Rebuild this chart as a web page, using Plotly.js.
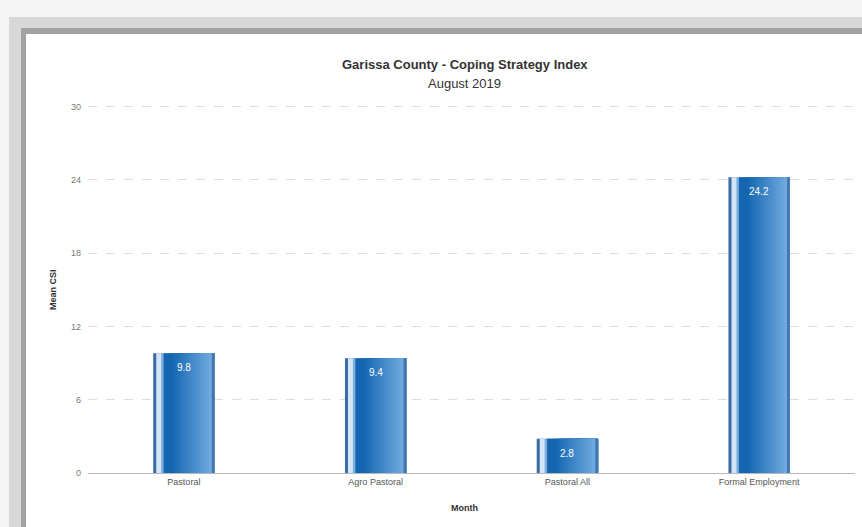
<!DOCTYPE html>
<html>
<head>
<meta charset="utf-8">
<script src="https://cdn.plot.ly/plotly-3.0.1.min.js"></script>
<style>
  html, body { margin: 0; padding: 0; width: 862px; height: 527px; overflow: hidden; background: #f5f5f5; }
  /* card edge with soft shadow bands along the top and left */
  #band1 { position: absolute; left: 9px; top: 17px; right: 0; bottom: 0; background: #d8d8d8; }
  #band2 { position: absolute; left: 21px; top: 28px; right: 0; bottom: 0; background: #a2a2a2; }
  #card  { position: absolute; left: 26px; top: 34px; right: 0; bottom: 0; background: #ffffff; }
  #chart { position: absolute; left: 0; top: 0; width: 862px; height: 527px; }
</style>
</head>
<body>
<div id="band1"></div>
<div id="band2"></div>
<div id="card"></div>
<div id="chart"></div>
<script>
// Mean Coping Strategy Index by livelihood zone, August 2019
const categories = ["Pastoral", "Agro Pastoral", "Pastoral All", "Formal Employment"];
const meanCSI = [9.8, 9.4, 2.8, 24.2];
const yTicks = [0, 6, 12, 18, 24, 30];

// Bars are built from overlapping vertical stripes to give the cylinder shading.
// Each stripe runs from its start to the right edge; later stripes cover earlier ones.
const BAR_W = 0.32;
const stripes = [
  [0.00, "#3b6ea4"],
  [0.05, "#d3e5f6"],
  [0.13, "#7aaedd"],
  [0.17, "#1565b0"]
];
const gradStart = [22, 104, 178], gradEnd = [110, 168, 222];
const gradSteps = 14;
for (let i = 0; i < gradSteps; i++) {
  const a = 0.30 + (0.95 - 0.30) * i / gradSteps;
  const t = i / (gradSteps - 1);
  const c = gradStart.map((v, k) => Math.round(v + (gradEnd[k] - v) * t));
  stripes.push([a, `rgb(${c[0]},${c[1]},${c[2]})`]);
}
stripes.push([0.955, "#4277ad"]);

const traces = stripes.map(([a, col]) => ({
  type: "bar",
  x: categories,
  y: meanCSI,
  width: BAR_W * (1 - a),
  offset: -BAR_W / 2 + BAR_W * a,
  marker: { color: col, line: { width: 0 } },
  hoverinfo: "skip",
  showlegend: false
}));

const valueLabels = categories.map((c, i) => ({
  x: c, y: meanCSI[i], xref: "x", yref: "y",
  text: meanCSI[i].toFixed(1),
  showarrow: false, yanchor: "top", yshift: -7,
  font: { size: 10, color: "#ffffff" }
}));

const layout = {
  width: 862,
  height: 527,
  margin: { l: 88, r: 7, t: 104, b: 54 },
  paper_bgcolor: "rgba(0,0,0,0)",
  plot_bgcolor: "rgba(0,0,0,0)",
  barmode: "overlay",
  showlegend: false,
  font: { family: "Liberation Sans, Arial, sans-serif", size: 9, color: "#666666" },
  xaxis: {
    type: "category",
    tickfont: { size: 9, color: "#555555" },
    showgrid: false,
    showline: true,
    linecolor: "#b8b8b8",
    linewidth: 1,
    ticks: "",
    fixedrange: true
  },
  yaxis: {
    range: [0, 30.2],
    tickvals: yTicks,
    ticktext: yTicks.map(String),
    tickfont: { size: 9, color: "#777777" },
    showgrid: true,
    gridcolor: "#dedede",
    griddash: "dash",
    gridwidth: 1,
    zeroline: false,
    ticks: "",
    ticklabelstandoff: 6,
    fixedrange: true
  },
  annotations: [
    { text: "<b>Garissa County - Coping Strategy Index</b>", xref: "paper", yref: "paper",
      x: 0.4915, y: 1.1084, xanchor: "center", yanchor: "middle", showarrow: false,
      font: { size: 13, color: "#333333" } },
    { text: "August 2019", xref: "paper", yref: "paper",
      x: 0.4915, y: 1.0569, xanchor: "center", yanchor: "middle", showarrow: false,
      font: { size: 13, color: "#333333" } },
    { text: "<b>Mean CSI</b>", xref: "paper", yref: "paper", textangle: -90,
      x: -0.0456, y: 0.4959, xanchor: "center", yanchor: "middle", showarrow: false,
      font: { size: 9, color: "#333333" } },
    { text: "<b>Month</b>", xref: "paper", yref: "paper",
      x: 0.4915, y: -0.0949, xanchor: "center", yanchor: "middle", showarrow: false,
      font: { size: 9, color: "#333333" } }
  ].concat(valueLabels)
};

Plotly.newPlot("chart", traces, layout, { displayModeBar: false, staticPlot: true });
</script>
</body>
</html>
